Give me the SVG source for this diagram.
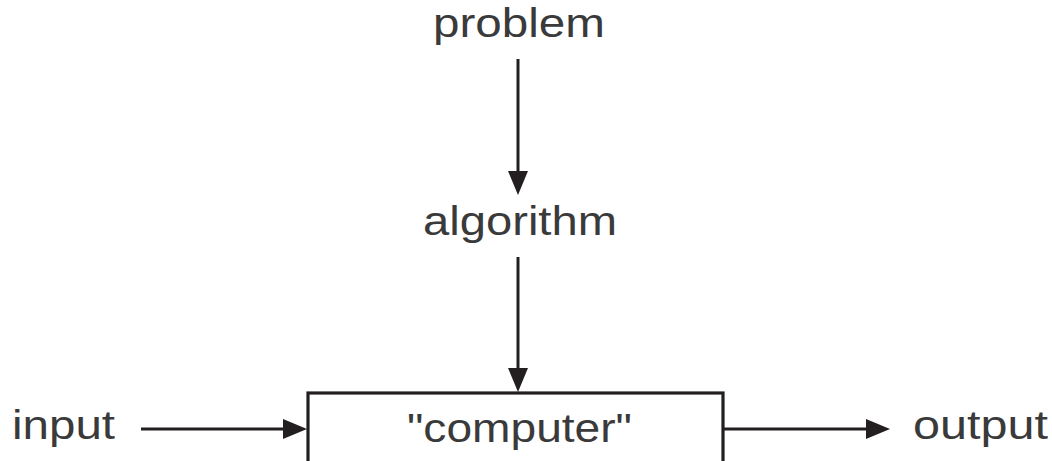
<svg xmlns="http://www.w3.org/2000/svg" width="1052" height="461" viewBox="0 0 1052 461">
<style>
.lbl{font-family:"Liberation Sans",Arial,sans-serif;font-size:40px;fill:#3a3a3a}
.edge{stroke:#231f20;stroke-width:3;fill:none}
.box{stroke:#231f20;stroke-width:3.2;fill:#ffffff}
</style>
<defs>
<marker id="ah" markerUnits="userSpaceOnUse" markerWidth="24" markerHeight="20" refX="14" refY="10" orient="auto" viewBox="0 0 24 20">
<path d="M0,0 L24,10 L0,20 z" fill="#231f20"/>
</marker>
</defs>
<rect width="1052" height="461" fill="#ffffff"/>
<g id="node-problem"><text class="lbl" x="433" y="37" textLength="172" lengthAdjust="spacingAndGlyphs">problem</text></g>
<g id="node-algorithm"><text class="lbl" x="423" y="235" textLength="194" lengthAdjust="spacingAndGlyphs">algorithm</text></g>
<g id="node-computer">
<rect class="box" x="308" y="393" width="415" height="110"/>
<text class="lbl" x="407" y="442" textLength="225" lengthAdjust="spacingAndGlyphs">"computer"</text>
</g>
<g id="node-input"><text class="lbl" x="12" y="439" textLength="103" lengthAdjust="spacingAndGlyphs">input</text></g>
<g id="node-output"><text class="lbl" x="913" y="439" textLength="135" lengthAdjust="spacingAndGlyphs">output</text></g>
<g id="connectors">
<line class="edge" x1="518" y1="59" x2="518" y2="185" marker-end="url(#ah)"/>
<line class="edge" x1="518" y1="257" x2="518" y2="382" marker-end="url(#ah)"/>
<line class="edge" x1="141" y1="429" x2="297" y2="429" marker-end="url(#ah)"/>
<line class="edge" x1="723" y1="429" x2="880" y2="429" marker-end="url(#ah)"/>
</g>
</svg>
